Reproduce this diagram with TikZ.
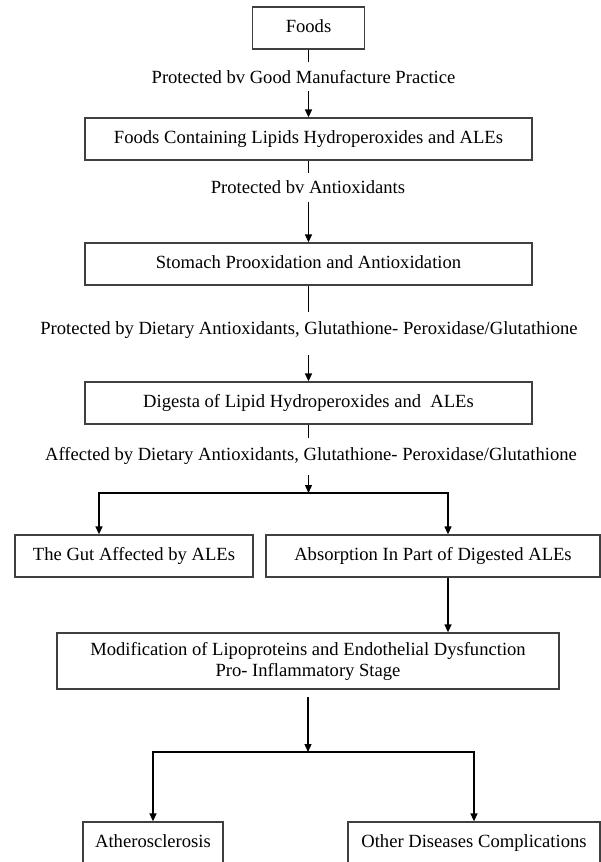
\documentclass[tikz,border=0pt]{standalone}
\usepackage{fontspec}
\setmainfont{Liberation Serif}
\usetikzlibrary{arrows.meta}

\begin{document}
\begin{tikzpicture}[x=1pt,y=-1pt,font=\fontsize{18.6}{21}\selectfont]
		\useasboundingbox (0,0) rectangle (601,862);
		\begin{scope}[every node/.style={rectangle,draw=black!75,line width=1.3pt,inner sep=0pt,
		              minimum height=42pt,text height=12.5pt,text depth=4pt}]
		    \node[minimum width=112pt] (foods) at (308.5,28) {Foods};
		    \node[minimum width=447pt] (lipids) at (308.5,139) {Foods Containing Lipids Hydroperoxides and ALEs};
		    \node[minimum width=447pt] (stomach) at (308.5,264) {Stomach Prooxidation and Antioxidation};
		    \node[minimum width=447pt] (digesta) at (308.5,403) {Digesta of Lipid Hydroperoxides and\ \ ALEs};
		    \node[minimum width=238pt] (gut) at (134,556) {The Gut Affected by ALEs};
		    \node[minimum width=334pt] (absorb) at (433,556) {Absorption In Part of Digested ALEs};
		    \node[minimum width=502pt,minimum height=56pt,text height={},text depth={},align=center] (modif) at (308,661)
		        {Modification of Lipoproteins and Endothelial Dysfunction\\Pro- Inflammatory Stage};
		    \node[minimum width=140pt] (athero) at (153,843) {Atherosclerosis};
		    \node[minimum width=252pt] (other) at (474,843) {Other Diseases Complications};
		\end{scope}
		
		\begin{scope}[every node/.style={inner sep=0pt}]
		    \node (prot1) at (303.5,77) {Protected bv Good Manufacture Practice};
		    \node (prot2) at (308,187) {Protected bv Antioxidants};
		    \node (prot3) at (309,330) {Protected by Dietary Antioxidants, Glutathione- Peroxidase/Glutathione};
		    \node (affect) at (311,456) {Affected by Dietary Antioxidants, Glutathione- Peroxidase/Glutathione};
		\end{scope}
		
		% free ends of the connectors
		\coordinate (p1a) at (308.5,62);  \coordinate (p1b) at (308.5,91);
		\coordinate (p2a) at (308.5,173); \coordinate (p2b) at (308.5,202);
		\coordinate (p3a) at (308.5,312); \coordinate (p3b) at (308.5,355);
		\coordinate (p4a) at (308.5,438); \coordinate (p4b) at (308.5,475);
		\coordinate (fork) at (308.5,493);
		\coordinate (forkl) at (99,493);  \coordinate (forkr) at (448,493);
		\coordinate (p5a) at (308,697);   \coordinate (split) at (308,752);
		\coordinate (splitl) at (153,752); \coordinate (splitr) at (474,752);
		
		\begin{scope}[>={Triangle[length=8pt,width=7pt]},line width=1.3pt,
		              every edge/.style={draw=black}]
		    	\path (foods) edge (p1a);
		    	\path (p1b) edge[->] (lipids);
		    	\path (lipids) edge (p2a);
		    	\path (p2b) edge[->] (stomach);
		    	\path (stomach) edge (p3a);
		    	\path (p3b) edge[->] (digesta);
		    	\path (digesta) edge (p4a);
		    	\path (p4b) edge[->] (fork);
		    	\draw[<->] (forkl |- gut.north) |- (forkr) -- (forkr |- absorb.north);
		    	\path (forkr |- absorb.south) edge[->] (forkr |- modif.north);
		    	\path (p5a) edge[->] (split);
		    	\draw[<->] (athero) |- (splitr) -- (other);
		\end{scope}
		\end{tikzpicture}
\end{document}
